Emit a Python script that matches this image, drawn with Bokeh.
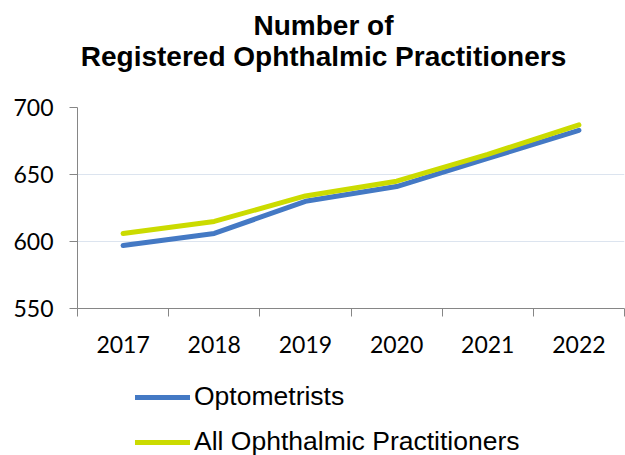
from bokeh.plotting import figure
from bokeh.layouts import column
from bokeh.models import Range1d, FixedTicker, Legend, LegendItem, Div
from bokeh.embed import file_html
from bokeh.resources import INLINE

title_lines = ["Number of", "Registered Ophthalmic Practitioners"]
years = ["2017", "2018", "2019", "2020", "2021", "2022"]
optometrists = [597, 606, 630, 641, 662, 683]
all_practitioners = [606, 615, 634, 645, 665, 687]
y_ticks = [550, 600, 650, 700]
series_names = ["Optometrists", "All Ophthalmic Practitioners"]
series_values = [optometrists, all_practitioners]
series_colors = ["#4479c4", "#cbdb00"]

xs = [i + 0.5 for i in range(len(years))]

# title block
title = Div(text="<div style=\"font-family:'Liberation Sans',Arial,sans-serif;font-weight:bold;"
                 "font-size:28px;line-height:31px;text-align:center;color:#000;"
                 "box-sizing:border-box;padding:10px 0 0 22px;width:625px;\">"
                 + "<br>".join(title_lines) + "</div>",
            width=625, height=80, margin=0)

p = figure(width=625, height=290, output_backend="svg", toolbar_location=None,
           x_range=Range1d(0, len(years)), y_range=Range1d(550, 700),
           min_border_left=77, min_border_right=1, min_border_top=27, min_border_bottom=62)

p.outline_line_color = None
p.background_fill_color = "white"
p.border_fill_color = "white"

# x axis
p.xaxis.ticker = FixedTicker(ticks=xs, minor_ticks=list(range(len(years) + 1)))
p.xaxis.major_label_overrides = {x: y for x, y in zip(xs, years)}
p.xaxis.major_tick_out = 0
p.xaxis.major_tick_in = 0
p.xaxis.minor_tick_out = 8
p.xaxis.minor_tick_in = 0
p.xaxis.minor_tick_line_color = "#868686"
p.xaxis.minor_tick_line_width = 1
p.xaxis.axis_line_color = "#868686"
p.xaxis.major_label_text_font = "Lato"
p.xaxis.major_label_text_font_size = "23px"
p.xaxis.major_label_text_color = "#000000"
p.xaxis.major_label_standoff = 19

# y axis
p.yaxis.ticker = FixedTicker(ticks=y_ticks)
p.yaxis.major_tick_out = 8
p.yaxis.major_tick_in = 0
p.yaxis.minor_tick_line_color = None
p.yaxis.major_tick_line_color = "#868686"
p.yaxis.axis_line_color = "#868686"
p.yaxis.major_label_text_font = "Lato"
p.yaxis.major_label_text_font_size = "23px"
p.yaxis.major_label_text_color = "#000000"
p.yaxis.major_label_standoff = 16

p.xgrid.grid_line_color = None
p.ygrid.grid_line_color = "#dce4ef"
p.ygrid.grid_line_width = 1

for vals, color in zip(series_values, series_colors):
    p.line(xs, vals, line_color=color, line_width=5, line_cap="round")

# legend strip below the chart (its lines fall outside its own ranges)
q = figure(width=625, height=85, output_backend="svg", toolbar_location=None,
           x_range=Range1d(0, 1), y_range=Range1d(0, 1),
           min_border_left=0, min_border_right=0, min_border_top=0, min_border_bottom=0)
q.axis.visible = False
q.grid.visible = False
q.outline_line_color = None
q.border_fill_color = "white"
items = []
for name, vals, color in zip(series_names, series_values, series_colors):
    r = q.line(xs, vals, line_color=color, line_width=5, line_cap="round")
    items.append(LegendItem(label=name, renderers=[r]))

legend = Legend(items=items, location=(58, -2), orientation="vertical",
                padding=0, margin=0, spacing=14,
                glyph_width=55, glyph_height=30, label_height=30, label_standoff=4,
                label_text_font="Liberation Sans", label_text_font_size="26.5px",
                label_text_color="#000000",
                border_line_color=None, background_fill_alpha=0)
q.add_layout(legend, "center")

layout = column(title, p, q, spacing=0)
open("out.html", "w").write(file_html(layout, INLINE))
